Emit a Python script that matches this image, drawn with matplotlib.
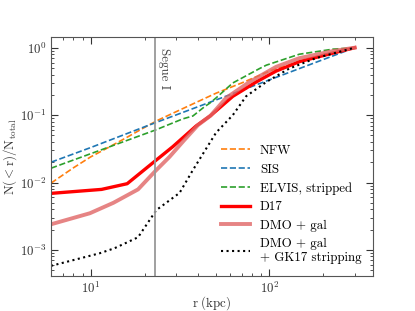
import numpy as np
import matplotlib
matplotlib.use("Agg")
import matplotlib.pyplot as plt

plt.rcParams.update({
    "font.family": "serif",
    "font.serif": ["cmr10", "DejaVu Serif"],
    "mathtext.fontset": "cm",
    "axes.formatter.use_mathtext": True,
    "font.size": 9.3,
    "axes.unicode_minus": True,
})

# ---- data ----
nfw_r = [6, 8, 10, 12.8, 16, 20.5, 24, 33, 50, 70, 100, 150, 200, 300]
nfw_n = [0.0098, 0.0165, 0.024, 0.034, 0.047, 0.068, 0.085, 0.126, 0.21, 0.30, 0.45, 0.63, 0.79, 1.0]

sis_r = [6, 10, 20, 50, 100, 200, 300]
sis_n = [0.02, 0.033, 0.067, 0.167, 0.333, 0.667, 1.0]

elvis_r = [6, 23, 32.8, 37.3, 43.3, 46.3, 50.3, 62.4, 88, 96, 147, 226, 300]
elvis_n = [0.0163, 0.060, 0.088, 0.097, 0.133, 0.15, 0.18, 0.30, 0.49, 0.55, 0.80, 0.95, 1.0]

d17_r = [6, 11.5, 16, 23, 28.8, 38.9, 46.8, 62.4, 84.3, 109, 147, 226, 300]
d17_n = [0.0069, 0.0079, 0.0096, 0.021, 0.034, 0.069, 0.098, 0.19, 0.31, 0.45, 0.62, 0.83, 1.0]

dmo_r = [6, 9.9, 13.4, 18.4, 23, 27.6, 33.5, 39.8, 46.8, 57.3, 77.3, 109, 147, 226, 300]
dmo_n = [0.0024, 0.0035, 0.0050, 0.0079, 0.0148, 0.024, 0.043, 0.071, 0.098, 0.18, 0.31, 0.52, 0.70, 0.89, 1.0]

gk_r = [6, 11.2, 13.6, 18.4, 23.3, 31.4, 37.3, 50.3, 62.4, 74, 96, 129, 182, 300]
gk_n = [5.8e-4, 8.9e-4, 1.06e-3, 1.54e-3, 3.9e-3, 7.0e-3, 0.0153, 0.055, 0.10, 0.19, 0.31, 0.49, 0.70, 1.0]

segue_r = 23

fig = plt.figure(figsize=(4.15, 3.11), dpi=100)
ax = fig.add_axes([0.123, 0.1125, 0.776, 0.7685])

ax.plot(nfw_r, nfw_n, ls="--", color="#ff7f0e", lw=1.2, label="NFW")
ax.plot(sis_r, sis_n, ls="--", color="#1f77b4", lw=1.2, label="SIS")
ax.plot(elvis_r, elvis_n, ls="--", color="#2ca02c", lw=1.2, label="ELVIS, stripped")
ax.plot(d17_r, d17_n, ls="-", color="red", lw=2.4, label="D17")
ax.plot(dmo_r, dmo_n, ls="-", color="#e06666", lw=2.8, alpha=0.8, label="DMO + gal")
ax.plot(gk_r, gk_n, ls=":", color="black", lw=1.5, label="DMO + gal\n+ GK17 stripping")

ax.axvline(segue_r, color="#999999", lw=1.3)
ax.text(segue_r * 1.035, 1.0, "Segue I", rotation=270, ha="left", va="top", color="#444444")

ax.set_xscale("log")
ax.set_yscale("log")
ax.set_xlim(6, 380)
ax.set_ylim(4.1e-4, 1.44)

ax.set_xlabel(r"$\mathrm{r\ (kpc)}$", color="#333333", labelpad=-1)
ax.set_ylabel(r"$\mathrm{N(<r)/N_{total}}$", color="#333333", labelpad=1)

ax.tick_params(which="both", direction="in", top=True, right=True, colors="#333333", pad=3)
ax.tick_params(which="major", length=5)
ax.tick_params(which="minor", length=2.5)
for s in ax.spines.values():
    s.set_color("#555555")

ax.legend(loc="lower right", frameon=False, handlelength=2.2, fontsize=9.3, labelspacing=0.5)

fig.savefig("out.png", dpi=100)
